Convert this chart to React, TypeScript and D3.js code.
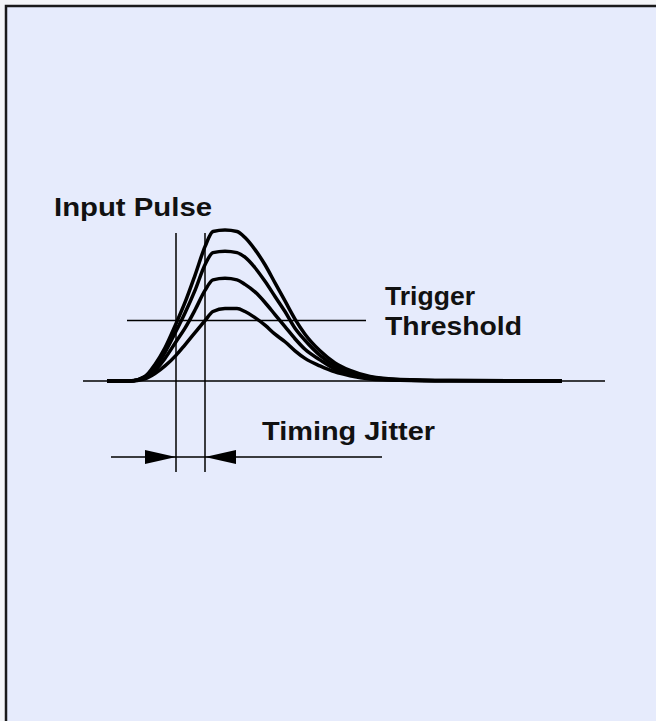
import React from "react";
import * as d3 from "d3";

// sample times (arbitrary units) shared by the four pulses
const times = [0, 23, 38, 48, 58, 69, 78, 88, 98, 106, 118, 130, 138, 148, 158, 168, 178, 188, 198, 213, 228, 243, 263, 293, 343, 455];

// pulse heights, largest to smallest
const pulseA = [0, 0, 3, 11, 22, 38, 52, 70, 89, 99, 100, 99, 95, 87, 77, 65, 53, 41, 31, 20, 12, 7, 3, 1, 0.3, 0];
const pulseB = [0, 0, 3, 9, 19, 33, 45, 60, 77, 85, 86, 85, 82, 75, 66, 56, 46, 35, 27, 17, 10, 6, 2.5, 0.9, 0.3, 0];
const pulseC = [0, 0, 2, 7, 15, 26, 35, 47, 60, 67, 68, 67, 64, 59, 52, 44, 36, 28, 21, 14, 8, 5, 2, 0.7, 0.2, 0];
const pulseD = [0, 0, 1.5, 5, 10, 17, 24, 32, 40, 46, 48, 48, 46, 42, 37, 31, 26, 20, 15, 10, 6, 3.5, 1.4, 0.5, 0.1, 0];
const pulses = [pulseA, pulseB, pulseC, pulseD];

const threshold = 40;
const baselineSpan = [-24, 498];
const thresholdSpan = [20, 259];
const jitterEdges = [69, 98]; // earliest and latest threshold crossing
const jitterArrowSpan = [4, 275];

const labels = {
  input: "Input Pulse",
  trigger: ["Trigger", "Threshold"],
  jitter: "Timing Jitter",
};

const W = 656;
const H = 721;

export default function App() {
  const x = d3.scaleLinear().domain([0, 455]).range([107, 562]);
  const y = d3.scaleLinear().domain([0, 100]).range([381, 230]);

  const line = d3
    .line<number>()
    .x((_, i) => x(times[i]))
    .y((d) => y(d))
    .curve(d3.curveMonotoneX);

  const arrowY = 457;
  const vTop = 233;
  const vBottom = 472;
  const head = 31;
  const half = 7;
  const [e0, e1] = jitterEdges.map((t) => x(t));

  const font = {
    fontFamily: "'Liberation Sans', Arial, sans-serif",
    fontWeight: 700,
    fontSize: 26,
    fill: "#111",
  } as const;

  return (
    <svg
      width={W}
      height={H}
      style={{ position: "absolute", left: 0, top: 0, display: "block" }}
    >
      <rect x={0} y={0} width={W} height={H} fill="#f4f5f8" />
      <rect x={6} y={6} width={W + 20} height={H + 20} fill="#e6ebfc" stroke="#1a1a1a" strokeWidth={2.5} />

      {/* baseline */}
      <line x1={x(baselineSpan[0])} x2={x(baselineSpan[1])} y1={y(0)} y2={y(0)} stroke="#000" strokeWidth={1.5} />
      {/* trigger threshold */}
      <line x1={x(thresholdSpan[0])} x2={x(thresholdSpan[1])} y1={y(threshold)} y2={y(threshold)} stroke="#000" strokeWidth={1.5} />

      {pulses.map((p, i) => (
        <path key={i} d={line(p) || ""} fill="none" stroke="#000" strokeWidth={3.5} strokeLinejoin="round" />
      ))}

      {/* jitter edges */}
      {[e0, e1].map((ex, i) => (
        <line key={i} x1={ex} x2={ex} y1={vTop} y2={vBottom} stroke="#000" strokeWidth={1.5} />
      ))}

      {/* jitter arrows */}
      <line x1={x(jitterArrowSpan[0])} x2={x(jitterArrowSpan[1])} y1={arrowY} y2={arrowY} stroke="#000" strokeWidth={1.5} />
      <path d={`M${e0},${arrowY} L${e0 - head},${arrowY - half} L${e0 - head},${arrowY + half} Z`} fill="#000" />
      <path d={`M${e1},${arrowY} L${e1 + head},${arrowY - half} L${e1 + head},${arrowY + half} Z`} fill="#000" />

      <text x={54} y={216} textLength={158} lengthAdjust="spacingAndGlyphs" {...font}>
        {labels.input}
      </text>
      <text x={385} y={305} textLength={90} lengthAdjust="spacingAndGlyphs" {...font}>
        {labels.trigger[0]}
      </text>
      <text x={385} y={335} textLength={137} lengthAdjust="spacingAndGlyphs" {...font}>
        {labels.trigger[1]}
      </text>
      <text x={262} y={440} textLength={173} lengthAdjust="spacingAndGlyphs" {...font}>
        {labels.jitter}
      </text>
    </svg>
  );
}
